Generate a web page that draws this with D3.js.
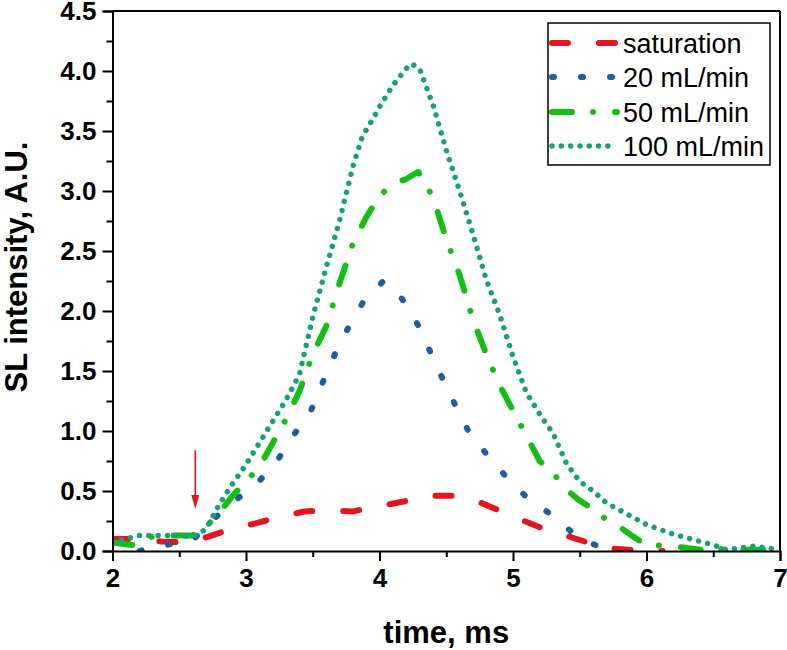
<!DOCTYPE html>
<html>
<head>
<meta charset="utf-8">
<script src="https://cdn.jsdelivr.net/npm/d3@7"></script>
<style>
  html, body { margin: 0; padding: 0; background: #fff; }
  svg { display: block; }
  text { font-family: "Liberation Sans", Arial, Helvetica, sans-serif; }
</style>
</head>
<body>
<svg id="chart" width="787" height="650"></svg>
<script>
// ---------------- data ----------------
const seriesNames = ["saturation", "20 mL/min", "50 mL/min", "100 mL/min"];

const satX = [2.0, 2.17, 2.37, 2.54, 2.63, 2.72, 2.88, 3.07, 3.24, 3.44, 3.61, 3.8, 3.98, 4.17, 4.36, 4.54, 4.7, 4.89, 5.04, 5.24, 5.39, 5.59, 5.75, 5.97, 6.12];
const satY = [0.10, 0.10, 0.08, 0.07, 0.09, 0.12, 0.18, 0.23, 0.28, 0.33, 0.34, 0.33, 0.37, 0.41, 0.46, 0.46, 0.43, 0.34, 0.27, 0.18, 0.13, 0.06, 0.02, 0.0, 0.0];

const f20X = [2.0, 2.1, 2.2, 2.3, 2.4, 2.5, 2.6, 2.75, 2.93, 3.09, 3.25, 3.36, 3.49, 3.58, 3.67, 3.77, 3.88, 4.03, 4.17, 4.29, 4.38, 4.475, 4.57, 4.67, 4.8, 4.94, 5.1, 5.29, 5.47, 5.67, 5.8];
const f20Y = [0.08, 0.05, 0.0, 0.03, 0.05, 0.07, 0.09, 0.26, 0.43, 0.57, 0.78, 0.97, 1.18, 1.42, 1.65, 1.87, 2.08, 2.25, 2.10, 1.88, 1.66, 1.43, 1.21, 0.99, 0.81, 0.63, 0.45, 0.30, 0.13, 0.02, 0.0];

const f50X = [2.0, 2.15, 2.2, 2.3, 2.4, 2.5, 2.6, 2.7, 2.8, 2.9, 3.0, 3.1, 3.2, 3.3, 3.4, 3.5, 3.6, 3.7, 3.8, 3.9, 4.0, 4.1, 4.2, 4.29, 4.4, 4.5, 4.6, 4.7, 4.8, 4.9, 5.0, 5.1, 5.2, 5.3, 5.4, 5.5, 5.6, 5.7, 5.8, 5.9, 6.0, 6.2, 6.4, 6.5, 6.6, 7.0];
const f50Y = [0.07, 0.05, 0.08, 0.12, 0.13, 0.13, 0.13, 0.20, 0.32, 0.46, 0.58, 0.70, 0.90, 1.10, 1.33, 1.64, 1.87, 2.23, 2.56, 2.78, 2.96, 3.06, 3.10, 3.16, 2.95, 2.60, 2.30, 1.93, 1.64, 1.38, 1.17, 0.96, 0.75, 0.65, 0.51, 0.42, 0.35, 0.26, 0.20, 0.12, 0.05, 0.04, 0.01, 0.03, 0.01, 0.01];

const f100X = [2.0, 2.1, 2.2, 2.3, 2.4, 2.5, 2.6, 2.7, 2.8, 2.9, 3.0, 3.1, 3.2, 3.3, 3.4, 3.5, 3.6, 3.7, 3.8, 3.87, 3.95, 4.0, 4.1, 4.2, 4.24, 4.3, 4.4, 4.5, 4.6, 4.7, 4.8, 4.9, 5.0, 5.1, 5.2, 5.3, 5.4, 5.5, 5.6, 5.7, 5.8, 5.9, 6.0, 6.2, 6.4, 6.5, 6.6, 6.8, 7.0];
const f100Y = [0.07, 0.10, 0.13, 0.13, 0.13, 0.13, 0.12, 0.18, 0.39, 0.56, 0.72, 0.90, 1.08, 1.26, 1.47, 1.95, 2.36, 2.75, 3.20, 3.45, 3.60, 3.70, 3.88, 4.02, 4.06, 4.02, 3.72, 3.34, 3.00, 2.64, 2.26, 1.97, 1.62, 1.32, 1.14, 0.98, 0.73, 0.58, 0.50, 0.40, 0.34, 0.28, 0.22, 0.14, 0.08, 0.05, 0.01, 0.04, 0.01];

const xTicks = [2, 3, 4, 5, 6, 7];
const yTicks = [0.0, 0.5, 1.0, 1.5, 2.0, 2.5, 3.0, 3.5, 4.0, 4.5];
const xLabel = "time, ms";
const yLabel = "SL intensity, A.U.";
const arrowX = 2.62, arrowTop = 0.84, arrowBottom = 0.35;

// ---------------- layout ----------------
const svg = d3.select("#chart");
const L = 112.5, R = 780, T = 11, B = 551;
const x = d3.scaleLinear().domain([2, 7]).range([L, R]);
const y = d3.scaleLinear().domain([0, 4.5]).range([B, T]);

const styles = [
  { color: "#e3161d", width: 6, dash: "16,31" },
  { color: "#1d5f9c", width: 6, dash: "2,27" },
  { color: "#14be14", width: 6, dash: "20,21,0.01,22" },
  { color: "#17a07a", width: 5.5, dash: "0.01,9.3" }
];
const series = [
  satX.map((v, i) => [v, satY[i]]),
  f20X.map((v, i) => [v, f20Y[i]]),
  f50X.map((v, i) => [v, f50Y[i]]),
  f100X.map((v, i) => [v, f100Y[i]])
];

svg.append("clipPath").attr("id", "clip").append("rect")
  .attr("x", L).attr("y", T - 4).attr("width", R - L).attr("height", B - T + 4);

const line = d3.line().x(d => x(d[0])).y(d => y(d[1]));
const g = svg.append("g").attr("clip-path", "url(#clip)");
series.forEach((s, i) => {
  g.append("path").datum(s).attr("d", line)
    .attr("fill", "none").attr("stroke", styles[i].color)
    .attr("stroke-width", styles[i].width)
    .attr("stroke-dasharray", styles[i].dash)
    .attr("stroke-linecap", "round").attr("stroke-linejoin", "round");
});

// frame top/right
svg.append("line").attr("x1", L).attr("x2", R).attr("y1", T).attr("y2", T).attr("stroke", "#000").attr("stroke-width", 2);
svg.append("line").attr("x1", R).attr("x2", R).attr("y1", T).attr("y2", B).attr("stroke", "#000").attr("stroke-width", 2);

// axes
const xAxis = d3.axisBottom(x).tickValues(xTicks).tickFormat(d3.format("d")).tickSize(10).tickPadding(8);
const xAxisMinor = d3.axisBottom(x).tickValues(d3.range(2.5, 7, 1)).tickFormat("").tickSize(6);
const yAxis = d3.axisLeft(y).tickValues(yTicks).tickFormat(d3.format(".1f")).tickSize(10).tickPadding(6);
const yAxisMinor = d3.axisLeft(y).tickValues(d3.range(0.25, 4.5, 0.5)).tickFormat("").tickSize(6);

function styleAxis(sel) {
  sel.select(".domain").attr("stroke", "#000").attr("stroke-width", 2);
  sel.selectAll(".tick line").attr("stroke", "#000").attr("stroke-width", 2);
  sel.selectAll(".tick text").attr("fill", "#000").attr("font-weight", "bold").attr("font-size", 26)
    .attr("font-family", "'Liberation Sans', Arial, sans-serif");
}
svg.append("g").attr("transform", `translate(0,${B})`).call(xAxisMinor).call(styleAxis).select(".domain").remove();
svg.append("g").attr("transform", `translate(${L},0)`).call(yAxisMinor).call(styleAxis).select(".domain").remove();
svg.append("g").attr("transform", `translate(0,${B})`).call(xAxis).call(styleAxis);
svg.append("g").attr("transform", `translate(${L},0)`).call(yAxis).call(styleAxis);

// axis titles
svg.append("text").attr("x", (L + R) / 2).attr("y", 643).attr("text-anchor", "middle")
  .attr("font-weight", "bold").attr("font-size", 31).text(xLabel);
svg.append("text").attr("transform", `translate(27,267) rotate(-90)`).attr("text-anchor", "middle")
  .attr("font-weight", "bold").attr("font-size", 31).text(yLabel);

// arrow annotation
svg.append("line").attr("x1", x(arrowX)).attr("x2", x(arrowX))
  .attr("y1", y(arrowTop)).attr("y2", y(arrowBottom) - 12)
  .attr("stroke", "#e3161d").attr("stroke-width", 1.6);
svg.append("path")
  .attr("d", `M${x(arrowX) - 4},${y(arrowBottom) - 14} L${x(arrowX) + 4},${y(arrowBottom) - 14} L${x(arrowX)},${y(arrowBottom)} Z`)
  .attr("fill", "#e3161d");

// legend
const lg = svg.append("g");
lg.append("rect").attr("x", 548).attr("y", 23).attr("width", 222).attr("height", 142)
  .attr("fill", "#fff").attr("stroke", "#000").attr("stroke-width", 1.5);
const rowY = [43, 77, 112, 146];
seriesNames.forEach((name, i) => {
  lg.append("line").attr("x1", 552).attr("x2", 617).attr("y1", rowY[i]).attr("y2", rowY[i])
    .attr("stroke", styles[i].color).attr("stroke-width", styles[i].width)
    .attr("stroke-dasharray", styles[i].dash).attr("stroke-linecap", "round");
  lg.append("text").attr("x", 623).attr("y", rowY[i] + 10).attr("font-size", 27).attr("fill", "#000").text(name);
});
</script>
</body>
</html>
